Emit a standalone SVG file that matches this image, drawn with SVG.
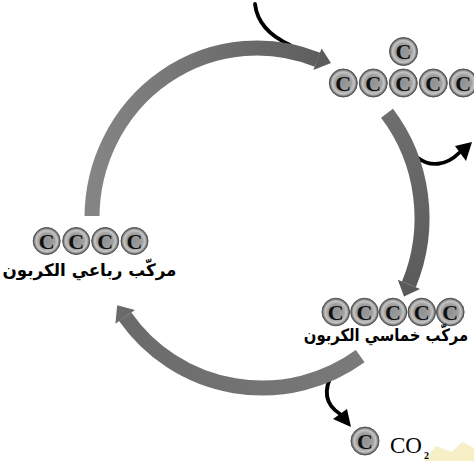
<svg xmlns="http://www.w3.org/2000/svg" width="474" height="461" viewBox="0 0 474 461">
<defs>
<radialGradient id="ball" cx="0.5" cy="0.5" r="0.5">
<stop offset="0" stop-color="#909090"/>
<stop offset="0.58" stop-color="#a0a0a0"/>
<stop offset="0.78" stop-color="#c6c6c6"/>
<stop offset="0.9" stop-color="#8c8c8c"/>
<stop offset="1" stop-color="#4a4a4a"/>
</radialGradient>
<linearGradient id="gTop" gradientUnits="userSpaceOnUse" x1="90" y1="0" x2="330" y2="0">
<stop offset="0" stop-color="#858585"/>
<stop offset="1" stop-color="#5c5c5c"/>
</linearGradient>
<linearGradient id="gRight" gradientUnits="userSpaceOnUse" x1="0" y1="110" x2="0" y2="295">
<stop offset="0" stop-color="#6e6e6e"/>
<stop offset="1" stop-color="#5a5a5a"/>
</linearGradient>
<linearGradient id="gBot" gradientUnits="userSpaceOnUse" x1="360" y1="0" x2="115" y2="0">
<stop offset="0" stop-color="#7a7a7a"/>
<stop offset="1" stop-color="#6a6a6a"/>
</linearGradient>
</defs>
<style>
.arc{fill:none;stroke-width:15;stroke-linecap:butt}
.blk{fill:none;stroke:#000;stroke-width:3.8;stroke-linecap:round}
.ball{fill:url(#ball);stroke:#555;stroke-width:1}
.c{font-family:"Liberation Serif",serif;font-size:22px;font-weight:bold;fill:#111;text-anchor:middle}
.ar{font-family:"DejaVu Sans",sans-serif;font-weight:bold;font-size:17px;fill:#000;text-anchor:middle}
.co{font-family:"Liberation Serif",serif;font-size:23px;fill:#000}
</style>
<rect width="474" height="461" fill="#fff"/>
<path d="M424,461 L436,446 L452,452 L462,442 L474,448 L474,461 Z" fill="#f7efc6"/>
<g id="connectors">
<path class="blk" d="M255,4 C257,22 268,35 290,45"/>
<path class="blk" d="M418,158 C430,167 446,166 459,153"/>
<polygon points="472,142 455,146 466,161" fill="#000"/>
<path class="blk" d="M333,372 C322,392 326,405 340,414"/>
<polygon points="351,427 333,419 347,409" fill="#000"/>
<path class="arc" stroke="url(#gTop)" d="M92,216 A165,170 0 0 1 317.5,59.8"/>
<polygon points="321.6,48.6 331,63 313.4,70" fill="#5c5c5c"/>
<path class="arc" stroke="url(#gRight)" d="M387,113.3 A165,170 0 0 1 408.9,284.4"/>
<polygon points="420,289 404,296.4 397.8,279.8" fill="#5a5a5a"/>
<path class="arc" stroke="url(#gBot)" d="M360.2,356.1 A167,167 0 0 1 125.2,316.8"/>
<polygon points="135,309.9 117.2,305.3 115.4,323.7" fill="#6a6a6a"/>
</g>
<g id="node-c6">
<circle class="ball" cx="403.5" cy="51.5" r="14"/><text class="c" x="403.5" y="59">C</text>
<circle class="ball" cx="343.3" cy="83" r="14"/><text class="c" x="343.3" y="90.5">C</text>
<circle class="ball" cx="373.3" cy="83" r="14"/><text class="c" x="373.3" y="90.5">C</text>
<circle class="ball" cx="403.3" cy="83" r="14"/><text class="c" x="403.3" y="90.5">C</text>
<circle class="ball" cx="433.3" cy="83" r="14"/><text class="c" x="433.3" y="90.5">C</text>
<circle class="ball" cx="463.3" cy="83" r="14"/><text class="c" x="463.3" y="90.5">C</text>
</g>
<g id="node-c4">
<circle class="ball" cx="46.7" cy="241" r="13.5"/><text class="c" x="46.7" y="248.5">C</text>
<circle class="ball" cx="76.2" cy="241" r="13.5"/><text class="c" x="76.2" y="248.5">C</text>
<circle class="ball" cx="105.2" cy="241" r="13.5"/><text class="c" x="105.2" y="248.5">C</text>
<circle class="ball" cx="134.5" cy="241" r="13.5"/><text class="c" x="134.5" y="248.5">C</text>
<text class="ar" x="89.5" y="276" textLength="174" lengthAdjust="spacingAndGlyphs">مركّب رباعي الكربون</text>
</g>
<g id="node-c5">
<circle class="ball" cx="335.8" cy="312" r="13.8"/><text class="c" x="335.8" y="319.5">C</text>
<circle class="ball" cx="364.5" cy="312" r="13.8"/><text class="c" x="364.5" y="319.5">C</text>
<circle class="ball" cx="393" cy="312" r="13.8"/><text class="c" x="393" y="319.5">C</text>
<circle class="ball" cx="421.8" cy="312" r="13.8"/><text class="c" x="421.8" y="319.5">C</text>
<circle class="ball" cx="450.3" cy="312" r="13.8"/><text class="c" x="450.3" y="319.5">C</text>
<text class="ar" x="0" y="0" transform="translate(386,341) scale(0.87,1)">مركّب خماسي الكربون</text>
</g>
<g id="node-co2">
<circle class="ball" cx="365" cy="441" r="14"/><text class="c" x="365" y="448.5">C</text>
<text class="co" x="390" y="453">CO</text>
<text x="424" y="459" style="font-family:'Liberation Serif',serif;font-size:10px;font-weight:bold">2</text>
</g>
</svg>
